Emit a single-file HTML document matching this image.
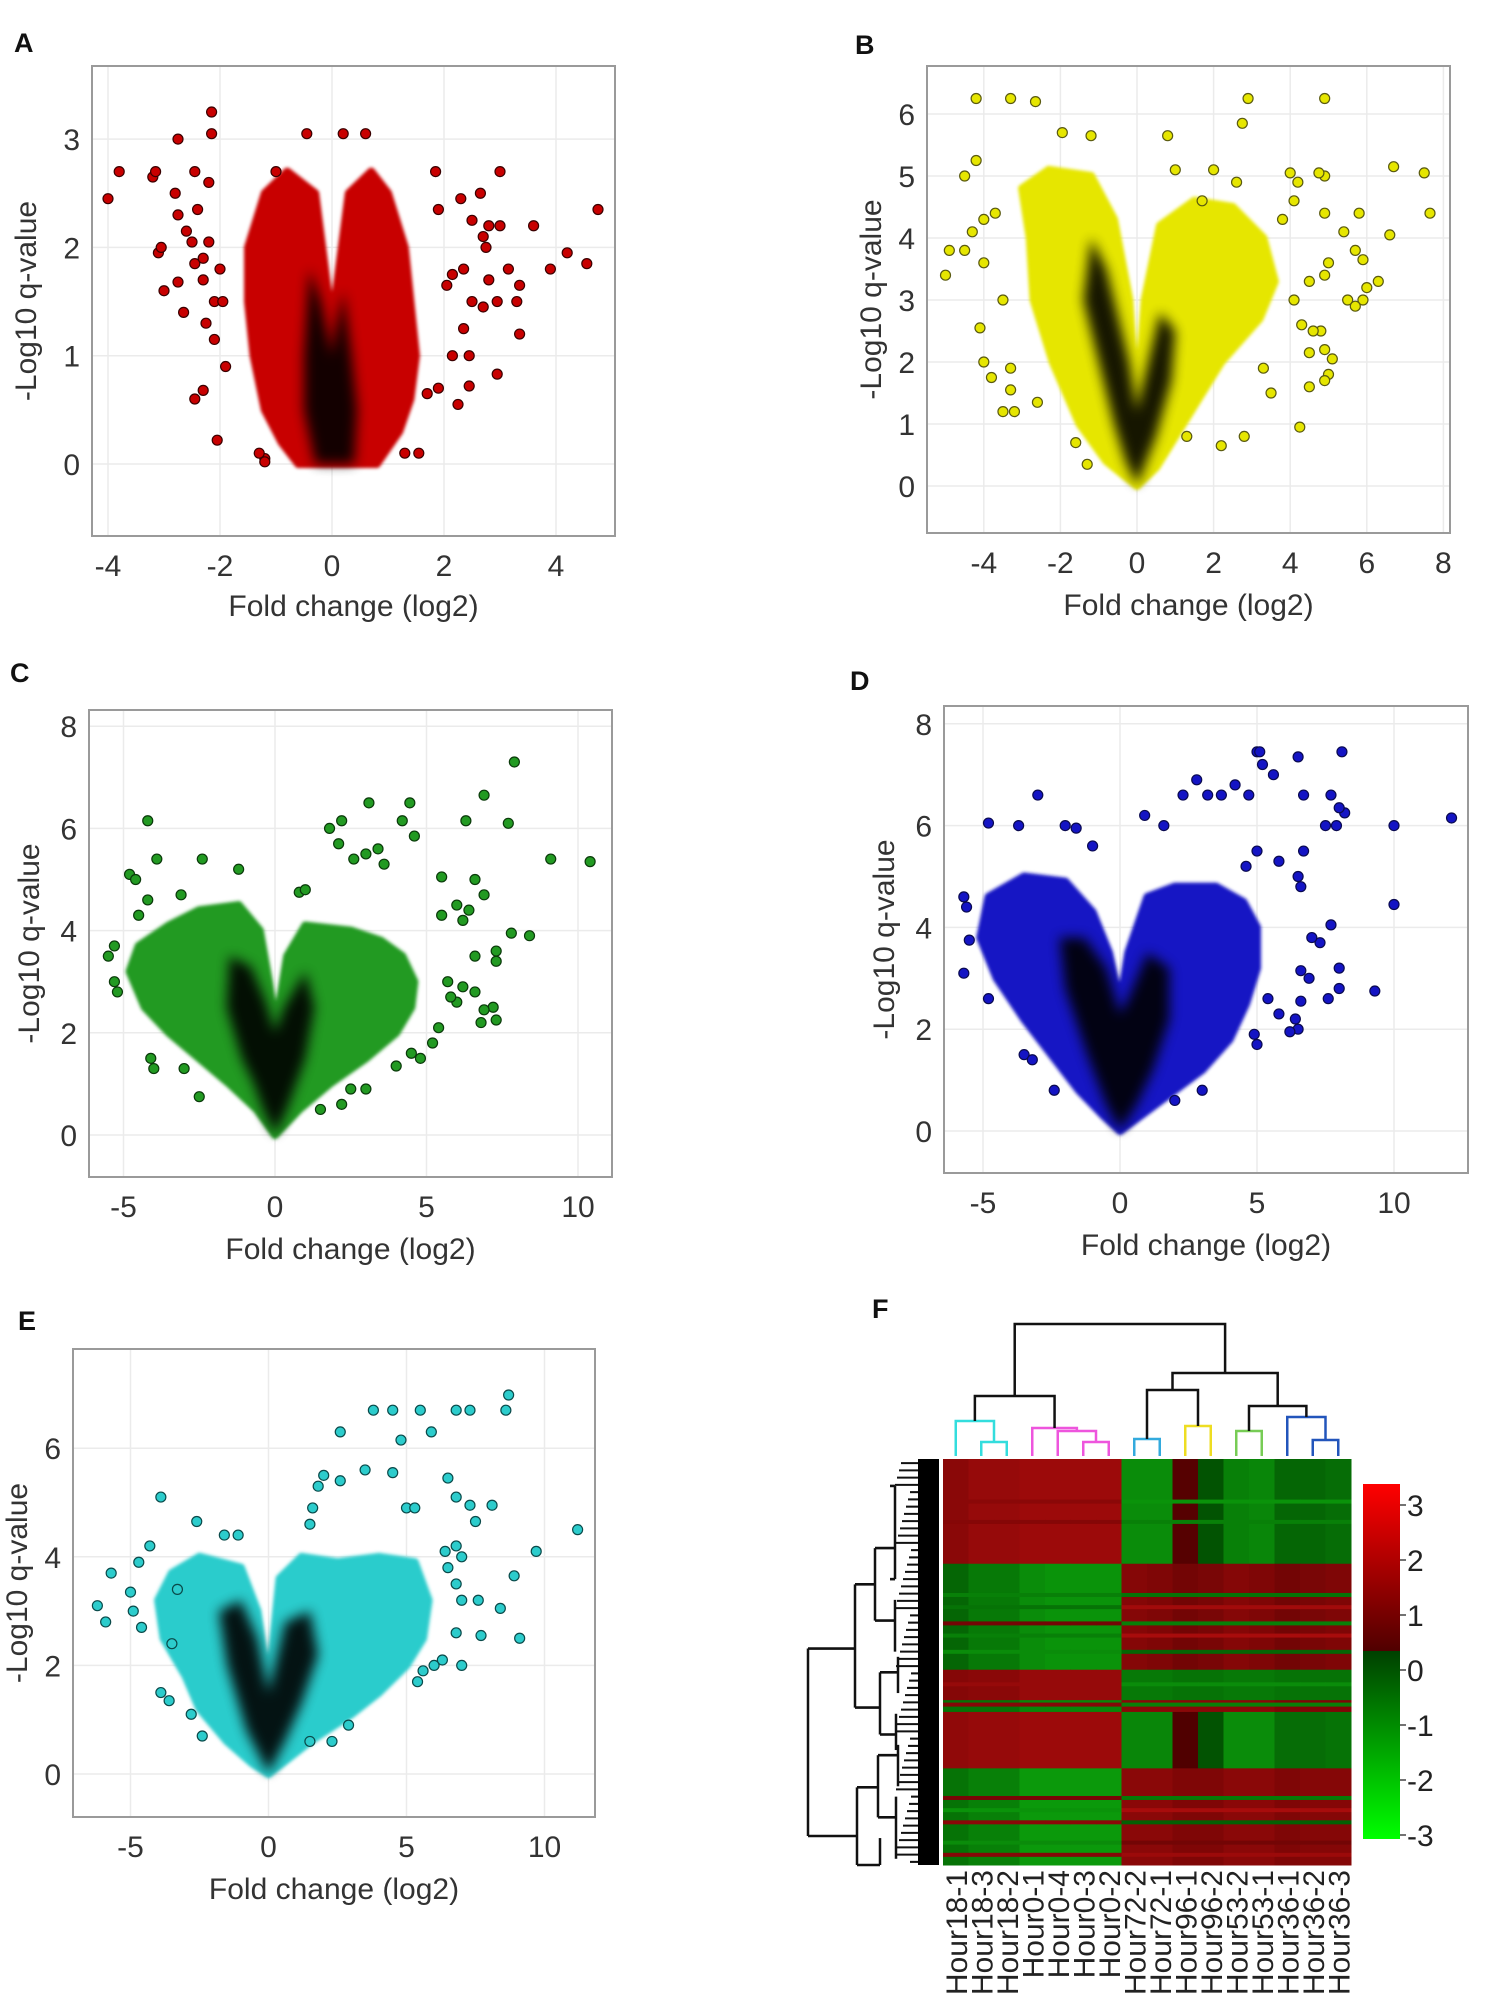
<!DOCTYPE html>
<html><head><meta charset="utf-8"><style>
html,body{margin:0;padding:0;background:#fff;}
svg{display:block;font-family:"Liberation Sans",sans-serif;}
</style></head><body>
<svg id="fig" width="1503" height="2008" viewBox="0 0 1503 2008" xmlns="http://www.w3.org/2000/svg">
<defs><filter id="blur" x="-30%" y="-30%" width="160%" height="160%"><feGaussianBlur stdDeviation="6"/></filter>
<filter id="soft" x="-10%" y="-10%" width="120%" height="120%"><feGaussianBlur stdDeviation="1.5"/></filter></defs>
</svg>
<script>
// ---------- Panel A data ----------
const aOutX=[-4,-3.8,-3.2,-3.15,-2.75,-3.1,-3.05,-3.0,-2.8,-2.75,-2.6,-2.45,-2.4,-2.45,-2.5,-2.3,-2.25,-2.3,-2.45,-2.65,-2.75,-2.1,-2.15,-2.15,-2.1,-2.05,-1.95,-1.9,-2.2,-2.2,-2.3,-2.0,-1.0,-0.45,0.2,0.6,1.85,1.9,2.3,2.65,3.0,2.8,3.0,2.7,2.75,2.5,3.6,4.75,4.2,3.9,4.55,3.15,3.35,3.3,3.35,2.95,2.45,2.25,2.8,2.95,2.7,2.5,2.35,2.45,2.15,1.55,1.3,-1.2,-1.2,-1.3,2.05,2.15,2.35,1.9,1.7];
const aOutY=[2.45,2.7,2.65,2.7,3.0,1.95,2.0,1.6,2.5,2.3,2.15,2.7,2.35,1.85,2.05,1.7,1.3,0.68,0.6,1.4,1.68,1.5,3.25,3.05,1.15,0.22,1.5,0.9,2.6,2.05,1.9,1.8,2.7,3.05,3.05,3.05,2.7,2.35,2.45,2.5,2.7,2.2,2.2,2.1,2.0,2.25,2.2,2.35,1.95,1.8,1.85,1.8,1.65,1.5,1.2,0.83,0.72,0.55,1.7,1.5,1.45,1.5,1.25,1.0,1.0,0.1,0.1,0.05,0.02,0.1,1.65,1.75,1.8,0.7,0.65];
const aEnvX=[-0.6,0.8,1.2,1.4,1.5,1.4,1.3,1.0,0.7,0.3,0.05,0,-0.05,-0.3,-0.8,-1.2,-1.5,-1.5,-1.4,-1.2,-0.9];
const aEnvY=[0,0,0.3,0.6,1.0,1.5,2.0,2.5,2.7,2.5,1.5,1.2,1.5,2.5,2.7,2.5,2.0,1.5,1.0,0.5,0.2];
const aCoreX=[-0.3,0.4,0.45,0.35,0.2,0.05,0,-0.2,-0.4,-0.5,-0.5];
const aCoreY=[0,0,0.5,1.0,1.6,1.2,1.0,1.5,1.8,1.0,0.5];
const aXTicks=[-4,-2,0,2,4];
const aYTicks=[0,1,2,3];
// ---------- Panel B data ----------
const bOutX=[-4.2,-3.3,-2.65,-1.95,-1.2,0.8,2.9,2.75,4.9,-5.0,-4.9,-4.5,-4.5,-4.2,-4.0,-4.1,-4.0,-3.8,-3.3,-3.5,-3.2,-3.3,-3.5,-2.6,-4.0,-4.3,-3.7,6.7,7.5,7.65,6.6,6.3,5.9,6.0,5.5,5.7,5.9,5.7,5.4,5.8,5.1,5.0,4.9,4.5,4.25,4.5,4.9,4.8,4.6,4.3,4.1,4.5,4.9,5.0,4.9,4.9,4.2,4.0,4.75,4.1,3.8,1.0,2.0,2.6,1.7,2.2,2.8,3.5,3.3,-1.3,-1.6,1.3];
const bOutY=[6.25,6.25,6.2,5.7,5.65,5.65,6.25,5.85,6.25,3.4,3.8,3.8,5.0,5.25,4.3,2.55,2.0,1.75,1.9,1.2,1.2,1.55,3.0,1.35,3.6,4.1,4.4,5.15,5.05,4.4,4.05,3.3,3.0,3.2,3.0,2.9,3.65,3.8,4.1,4.4,2.05,1.8,1.7,1.6,0.95,2.15,2.2,2.5,2.5,2.6,3.0,3.3,3.4,3.6,4.4,5.0,4.9,5.05,5.05,4.6,4.3,5.1,5.1,4.9,4.6,0.65,0.8,1.5,1.9,0.35,0.7,0.8];
const bEnvX=[0,0.5,1.2,2.2,3.2,3.6,3.3,2.5,1.5,0.6,0.2,0,-0.2,-0.6,-1.2,-2.3,-3.0,-2.8,-2.7,-2.2,-1.5,-0.8];
const bEnvY=[0,0.3,1.0,2.0,2.7,3.3,4.0,4.5,4.6,4.2,3.0,1.3,3.0,4.3,5.0,5.1,4.8,4.0,3.0,2.0,1.0,0.4];
const bCoreX=[0,0.5,0.9,1.0,0.6,0.1,0,-0.2,-0.8,-1.2,-1.4,-1.0,-0.6,-0.3];
const bCoreY=[0,0.8,1.7,2.5,2.8,1.5,1.2,2.0,3.5,4.0,3.0,2.0,1.0,0.4];
const bXTicks=[-4,-2,0,2,4,6,8];
const bYTicks=[0,1,2,3,4,5,6];
// ---------- Panel C data ----------
const cOutX=[-4.2,-3.9,-2.4,-1.2,-4.8,-4.6,-5.3,-5.5,-5.2,-5.3,-4.0,-4.1,-3.0,-2.5,-4.5,-4.2,-3.1,0.8,1.0,1.8,2.2,2.1,3.1,2.6,3.0,3.4,3.6,4.2,4.45,4.6,5.5,6.3,6.9,7.9,7.7,9.1,10.4,6.6,6.9,7.8,8.4,7.3,7.3,7.2,7.3,6.8,6.9,6.6,6.2,6.0,6.6,6.2,5.7,5.8,5.4,5.2,4.8,4.5,4.0,5.5,6.0,6.4,2.2,2.5,3.0,1.5];
const cOutY=[6.15,5.4,5.4,5.2,5.1,5.0,3.7,3.5,2.8,3.0,1.3,1.5,1.3,0.75,4.3,4.6,4.7,4.75,4.8,6.0,6.15,5.7,6.5,5.4,5.5,5.6,5.3,6.15,6.5,5.85,5.05,6.15,6.65,7.3,6.1,5.4,5.35,5.0,4.7,3.95,3.9,3.6,3.4,2.5,2.25,2.2,2.45,2.8,2.9,2.6,3.5,4.2,3.0,2.7,2.1,1.8,1.5,1.6,1.35,4.3,4.5,4.4,0.6,0.9,0.9,0.5];
const cEnvX=[0,0.8,1.8,3,4,4.5,4.6,4.2,3.5,2.5,1,0.4,0.1,0,-0.2,-0.5,-1.2,-2.5,-3.5,-4.5,-4.8,-4.3,-3.5,-2.5,-1.5,-0.6];
const cEnvY=[0,0.5,1,1.5,2,2.5,3,3.5,3.8,4.0,4.1,3.5,2.4,2.2,3,4.0,4.5,4.4,4.1,3.7,3.2,2.5,2,1.5,1,0.5];
const cCoreX=[0,0.4,0.7,1.0,1.3,1.0,0.3,0,-0.3,-0.8,-1.5,-1.6,-1.1,-0.7,-0.4];
const cCoreY=[0,0.5,1.0,1.5,2.5,3.2,2.5,2,2.6,3.3,3.5,2.5,1.5,1.0,0.5];
const cXTicks=[-5,0,5,10];
const cYTicks=[0,2,4,6,8];
// ---------- Panel D data ----------
const dOutX=[-3.0,-4.8,-3.7,-2.0,-1.6,-1.0,-5.7,-5.6,-5.5,-5.7,-4.8,-3.5,-3.2,-2.4,0.9,1.6,2.3,2.8,3.2,3.7,4.2,4.7,5.0,5.1,5.2,5.6,6.5,8.1,6.7,7.7,8.2,8.0,7.9,7.5,10.0,12.1,10.0,9.3,7.6,8.0,8.0,7.7,7.3,7.0,6.6,6.9,6.6,6.5,6.2,6.4,5.8,5.4,5.0,4.9,6.5,6.7,5.8,4.6,5.0,3.0,2.0,6.6];
const dOutY=[6.6,6.05,6.0,6.0,5.95,5.6,4.6,4.4,3.75,3.1,2.6,1.5,1.4,0.8,6.2,6.0,6.6,6.9,6.6,6.6,6.8,6.6,7.45,7.45,7.2,7.0,7.35,7.45,6.6,6.6,6.25,6.35,6.0,6.0,6.0,6.15,4.45,2.75,2.6,2.8,3.2,4.05,3.7,3.8,3.15,3.0,2.55,2.0,1.95,2.2,2.3,2.6,1.7,1.9,5.0,5.5,5.3,5.2,5.5,0.8,0.6,4.8];
const dEnvX=[0,1.5,3,4,4.6,5.0,5,4.5,3.5,2,1,0.3,0,-0.4,-1,-2,-3.5,-4.8,-5.1,-4.5,-3.5,-2.5,-1.5,-0.6];
const dEnvY=[0,0.6,1.2,1.8,2.5,3.2,4,4.5,4.8,4.8,4.6,3.5,2.5,3.5,4.3,4.9,5.0,4.6,3.8,3.0,2.2,1.5,0.8,0.3];
const dCoreX=[0,0.6,1.2,1.8,1.8,1.0,0.3,0,-0.5,-1.3,-2.2,-2.0,-1.2,-0.5];
const dCoreY=[0,0.5,1.2,2.2,3.2,3.5,2.6,2.3,3.2,3.8,3.8,2.8,1.5,0.5];
const dXTicks=[-5,0,5,10];
const dYTicks=[0,2,4,6,8];
// ---------- Panel E data ----------
const eOutX=[-6.2,-5.9,-5.7,-5.0,-4.9,-4.7,-4.6,-4.3,-3.9,-3.9,-3.6,-3.3,-2.6,-2.4,-2.8,-3.5,2.6,3.8,4.5,5.5,6.8,7.3,8.6,8.7,4.8,5.9,3.5,2.0,2.6,4.5,6.5,6.8,5.0,5.3,7.3,7.5,8.1,9.7,11.2,8.9,8.4,9.1,7.7,7.0,5.4,5.6,6.0,6.3,6.8,7.0,7.6,6.8,6.5,6.4,6.8,7.0,1.5,1.6,1.8,2.3,2.9,1.5,-1.6,-1.1];
const eOutY=[3.1,2.8,3.7,3.35,3.0,3.9,2.7,4.2,5.1,1.5,1.35,3.4,4.65,0.7,1.1,2.4,6.3,6.7,6.7,6.7,6.7,6.7,6.7,6.98,6.15,6.3,5.6,5.5,5.4,5.55,5.45,5.1,4.9,4.9,4.95,4.65,4.95,4.1,4.5,3.65,3.05,2.5,2.55,2.0,1.7,1.9,2.0,2.1,2.6,3.2,3.2,3.5,3.8,4.1,4.2,4.0,4.6,4.9,5.3,0.6,0.9,0.6,4.4,4.4];
const eEnvX=[0,1.5,3,4,5,5.6,5.8,5.3,4,2.5,1.2,0.4,0,-0.4,-1,-2.5,-3.5,-4.0,-3.8,-3.0,-2.5,-1.5,-0.6];
const eEnvY=[0,0.6,1.1,1.5,2.0,2.5,3.2,3.9,4.0,3.9,4.0,3.6,1.6,3.0,3.8,4.0,3.7,3.2,2.5,1.8,1.2,0.6,0.2];
const eCoreX=[0,0.6,1.2,1.8,1.5,0.6,0,-0.4,-1.0,-1.8,-1.5,-0.8];
const eCoreY=[0,0.6,1.3,2.2,3.0,2.8,1.5,2.5,3.2,3.0,2.0,0.8];
const eXTicks=[-5,0,5,10];
const eYTicks=[0,2,4,6];
// ---------- Heatmap data ----------
const hmCols=["Hour18-1","Hour18-3","Hour18-2","Hour0-1","Hour0-4","Hour0-3","Hour0-2","Hour72-2","Hour72-1","Hour96-1","Hour96-2","Hour53-2","Hour53-1","Hour36-1","Hour36-2","Hour36-3"];
const hmBlockSizes=[0.258,0.261,0.075,0.029,0.139,0.238];
const hmBlockVals=[
 [1.0,1.2,1.2,1.3,1.3,1.3,1.3,-1.2,-1.2,0.1,-0.3,-1.0,-1.1,-0.6,-0.6,-0.7],
 [-0.6,-0.9,-0.9,-1.2,-1.3,-1.3,-1.3,0.9,0.8,0.6,0.7,0.9,0.8,0.6,0.7,0.8],
 [0.9,1.0,1.0,1.2,1.2,1.2,1.2,-0.9,-0.9,-0.8,-0.8,-0.9,-0.9,-0.8,-0.8,-0.8],
 [-0.8,-0.8,-0.8,-1.1,-1.1,-1.1,-1.1,1.0,1.0,1.0,1.0,1.0,1.0,0.8,0.8,0.8],
 [1.1,1.2,1.2,1.3,1.3,1.3,1.3,-1.1,-1.1,0.0,-0.3,-1.2,-1.2,-0.7,-0.7,-0.8],
 [-0.8,-1.0,-1.0,-1.4,-1.4,-1.4,-1.4,1.0,1.0,0.8,0.8,1.0,1.0,0.8,0.9,0.9]];
const hmStripeStart=[0.10,0.15,0.33,0.36,0.40,0.43,0.47,0.55,0.60,0.83,0.86,0.89,0.94,0.97];
const hmStripeLeft=[1.0,0.9,-1.0,-0.8,0.6,-1.0,-1.2,1.2,0.9,0.7,-1.3,1.0,-1.2,0.9];
const hmStripeRight=[-1.3,-1.0,-0.8,1.4,-1.0,1.5,-0.6,-1.2,-1.0,-0.9,1.5,-0.5,0.6,1.3];
const cbTicks=[3,2,1,0,-1,-2,-3];

const NS="http://www.w3.org/2000/svg";
const svg=document.getElementById('fig');
function mk(tag,attrs,parent){const e=document.createElementNS(NS,tag);for(const k in attrs)e.setAttribute(k,attrs[k]);(parent||svg).appendChild(e);return e;}

function volcano(name,cfg,outX,outY,envX,envY,coreX,coreY,xt,yt){
  const g=mk('g',{});
  
  
  const sx=v=>cfg.x0+v*cfg.xu, sy=v=>cfg.y0-v*cfg.yu;
  xt.forEach(t=>{const l=mk('line',{x1:sx(t),x2:sx(t),y1:cfg.top,y2:cfg.bottom,stroke:'#ebebeb','stroke-width':1.5},g);
    
    });
  yt.forEach(t=>{const l=mk('line',{x1:cfg.left,x2:cfg.right,y1:sy(t),y2:sy(t),stroke:'#ebebeb','stroke-width':1.5},g);
    
    });
  const env=mk('polygon',{points:envX.map((x,i)=>sx(x)+','+sy(envY[i])).join(' '),fill:cfg.fill,stroke:cfg.fill,'stroke-width':8,'stroke-linejoin':'round',filter:'url(#soft)'},g);
  
  
  const core=mk('polygon',{points:coreX.map((x,i)=>sx(x)+','+sy(coreY[i])).join(' '),fill:'#000',opacity:0.9,filter:'url(#blur)'},g);
  
  
  outX.forEach((x,i)=>{const c=mk('circle',{cx:sx(x),cy:sy(outY[i]),r:cfg.r,fill:cfg.fill,stroke:cfg.stroke,'stroke-width':1.2},g);
    
    });
  const fr=mk('rect',{x:cfg.left,y:cfg.top,width:cfg.right-cfg.left,height:cfg.bottom-cfg.top,fill:'none',stroke:'#9a9a9a','stroke-width':2},g);
  
  
  xt.forEach(t=>{const tx=mk('text',{x:sx(t),y:cfg.bottom+cfg.xtOff,'font-size':30,fill:'#333','text-anchor':'middle'},g);tx.textContent=t;
    
    });
  yt.forEach(t=>{const tx=mk('text',{x:cfg.left-cfg.ytOff,y:sy(t)+11,'font-size':30,fill:'#333','text-anchor':'end'},g);tx.textContent=t;
    
    });
  const xtl=mk('text',{x:(cfg.left+cfg.right)/2,y:cfg.bottom+cfg.xTitleOff,'font-size':30,fill:'#333','text-anchor':'middle'},g);xtl.textContent='Fold change (log2)';
  
  
  const cy=(cfg.top+cfg.bottom)/2, cx=cfg.left-cfg.yTitleOff;
  const ytl=mk('text',{x:cx,y:cy,'font-size':30,fill:'#333','text-anchor':'middle',transform:`rotate(-90 ${cx} ${cy})`},g);ytl.textContent='-Log10 q-value';
  
  
  const pl=mk('text',{x:cfg.lx,y:cfg.ly,'font-size':27,fill:'#111','font-weight':'bold'},g);pl.textContent=cfg.letter;
  
  
}

volcano('volcano-plot-a',{left:92,top:66,right:615,bottom:536,x0:332,xu:56,y0:464,yu:108.3,fill:'#c80000',stroke:'#3a0000',r:5,xtOff:40,ytOff:12,xTitleOff:80,yTitleOff:56,letter:'A',lx:14,ly:52},aOutX,aOutY,aEnvX,aEnvY,aCoreX,aCoreY,aXTicks,aYTicks);
volcano('volcano-plot-b',{left:927,top:66,right:1450,bottom:533,x0:1137,xu:38.3,y0:486,yu:62,fill:'#e6e600',stroke:'#5a5a10',r:5,xtOff:40,ytOff:12,xTitleOff:82,yTitleOff:46,letter:'B',lx:855,ly:54},bOutX,bOutY,bEnvX,bEnvY,bCoreX,bCoreY,bXTicks,bYTicks);
volcano('volcano-plot-c',{left:89,top:710,right:612,bottom:1177,x0:275,xu:30.3,y0:1135,yu:51.1,fill:'#229a22',stroke:'#0a3a0a',r:5,xtOff:40,ytOff:12,xTitleOff:82,yTitleOff:50,letter:'C',lx:10,ly:682},cOutX,cOutY,cEnvX,cEnvY,cCoreX,cCoreY,cXTicks,cYTicks);
volcano('volcano-plot-d',{left:944,top:706,right:1468,bottom:1173,x0:1120,xu:27.4,y0:1131,yu:50.9,fill:'#1414c4',stroke:'#0a0a50',r:5,xtOff:40,ytOff:12,xTitleOff:82,yTitleOff:50,letter:'D',lx:850,ly:690},dOutX,dOutY,dEnvX,dEnvY,dCoreX,dCoreY,dXTicks,dYTicks);
volcano('volcano-plot-e',{left:73,top:1349,right:595,bottom:1817,x0:268.5,xu:27.6,y0:1774,yu:54.3,fill:'#2ccccc',stroke:'#0a4a4a',r:5,xtOff:40,ytOff:12,xTitleOff:82,yTitleOff:46,letter:'E',lx:18,ly:1330},eOutX,eOutY,eEnvX,eEnvY,eCoreX,eCoreY,eXTicks,eYTicks);

// ---------- Heatmap ----------
(function(){
  const g=mk('g',{});
  
  
  const L=943,T=1459,W=408,H=406,cw=W/hmCols.length;
  function col(v){v=Math.max(-3,Math.min(3,v));
    if(v>=0){return `rgb(${Math.round(80+175*v/3)},${Math.round(8*v)},${Math.round(8*v)})`;} return `rgb(${Math.round(-8*v)},${Math.round(64+191*(-v)/3)},${Math.round(-8*v)})`;}
  let y=T;
  hmBlockSizes.forEach((f,b)=>{const h=f*H;
    hmBlockVals[b].forEach((v,c)=>{const r=mk('rect',{x:L+c*cw,y:y,width:cw+0.5,height:h+0.5,fill:col(v)},g);
      
      });
    y+=h;});
  hmStripeStart.forEach((s,i)=>{hmCols.forEach((n,c)=>{const v=c<7?hmStripeLeft[i]:hmStripeRight[i];
    const r=mk('rect',{x:L+c*cw,y:T+s*H,width:cw+0.5,height:4,fill:col(v)},g);
    
    });});
  hmCols.forEach((n,c)=>{const x=L+(c+0.5)*cw+11, yy=1870;
    const t=mk('text',{x:x,y:yy,'font-size':30,fill:'#222','text-anchor':'end',transform:`rotate(-90 ${x} ${yy})`},g);t.textContent=n;
    
    });
  const cx=i=>L+(i+0.5)*cw;
  function link(x1,x2,yTop,y1,y2,color){mk('path',{d:`M${x1},${y1} V${yTop} H${x2} V${y2}`,fill:'none',stroke:color,'stroke-width':2.5},g);}
  const leaf=1456;
  let m12=(cx(1)+cx(2))/2; link(cx(1),cx(2),1442,leaf,leaf,'#33dddd');
  let n18=(cx(0)+m12)/2; link(cx(0),m12,1421,leaf,1442,'#33dddd');
  let m56=(cx(5)+cx(6))/2; link(cx(5),cx(6),1442,leaf,leaf,'#ee55dd');
  let m456=(cx(4)+m56)/2; link(cx(4),m56,1431,leaf,1442,'#ee55dd');
  let n0=(cx(3)+m456)/2; link(cx(3),m456,1428,leaf,1431,'#ee55dd');
  let n72=(cx(7)+cx(8))/2; link(cx(7),cx(8),1439,leaf,leaf,'#33aadd');
  let n96=(cx(9)+cx(10))/2; link(cx(9),cx(10),1426,leaf,leaf,'#eedd22');
  let n53=(cx(11)+cx(12))/2; link(cx(11),cx(12),1431,leaf,leaf,'#77cc55');
  let m1415=(cx(14)+cx(15))/2; link(cx(14),cx(15),1440,leaf,leaf,'#2255bb');
  let n36=(cx(13)+m1415)/2; link(cx(13),m1415,1417,leaf,1440,'#2255bb');
  let nL=(n18+n0)/2; link(n18,n0,1396,1421,1428,'#111');
  let nA=(n72+n96)/2; link(n72,n96,1390,1439,1426,'#111');
  let nB=(n53+n36)/2; link(n53,n36,1406,1431,1417,'#111');
  let nR=(nA+nB)/2; link(nA,nB,1373,1390,1406,'#111');
  link(nL,nR,1324,1396,1373,'#111');
  const rg=mk('g',{transform:'translate(0,1459) scale(1,1.0357) translate(0,-1454)'},g);
  
  
  const rd=[[808,1637,808,1818],[808,1637,855,1637],[808,1818,857,1818],[855,1575,855,1694],[857,1771,857,1846],
    [855,1575,875,1575],[855,1694,880,1694],[857,1771,878,1771],[857,1846,880,1846],
    [875,1540,875,1610],[880,1660,880,1720],[878,1740,878,1800],[880,1820,880,1846],
    [875,1540,895,1540],[875,1610,895,1610],[880,1660,898,1660],[880,1720,896,1720],[878,1740,898,1740],[878,1800,896,1800],
    [895,1480,895,1570],[895,1590,895,1640],[898,1645,898,1680],[896,1700,896,1735],[898,1730,898,1770],[896,1780,896,1840],
    [890,1480,895,1480],[890,1570,895,1570]];
  rd.forEach(s=>{const l=mk('line',{x1:s[0],y1:s[1],x2:s[2],y2:s[3],stroke:'#111','stroke-width':2.5},rg);
    
    });
  for(let yy=1458;yy<1846;yy+=7){const l=mk('line',{x1:895+((yy*7)%17),y1:yy,x2:922,y2:yy,stroke:'#111','stroke-width':2},rg);
    
    }
  const blk=mk('rect',{x:918,y:1454,width:21,height:392,fill:'#000'},rg);
  
  
  const grad=mk('linearGradient',{id:'cb',x1:0,y1:0,x2:0,y2:1},svg.querySelector('defs'));
  [['0','#ff0000'],['0.47','#500000'],['0.47','#004000'],['1','#00ff00']].forEach(s=>mk('stop',{offset:s[0],'stop-color':s[1]},grad));
  const cb=mk('rect',{x:1363,y:1484,width:37,height:355,fill:'url(#cb)'},g);
  
  
  const cbY=v=>1670-v*55;
  cbTicks.forEach(v=>{mk('line',{x1:1400,x2:1406,y1:cbY(v),y2:cbY(v),stroke:'#444','stroke-width':1.5},g);
    const t=mk('text',{x:1407,y:cbY(v)+11,'font-size':30,fill:'#222'},g);t.textContent=v;
    
    });
  const pl=mk('text',{x:872,y:1318,'font-size':27,fill:'#111','font-weight':'bold'},g);pl.textContent='F';
  
  
})();
</script>
</body></html>
